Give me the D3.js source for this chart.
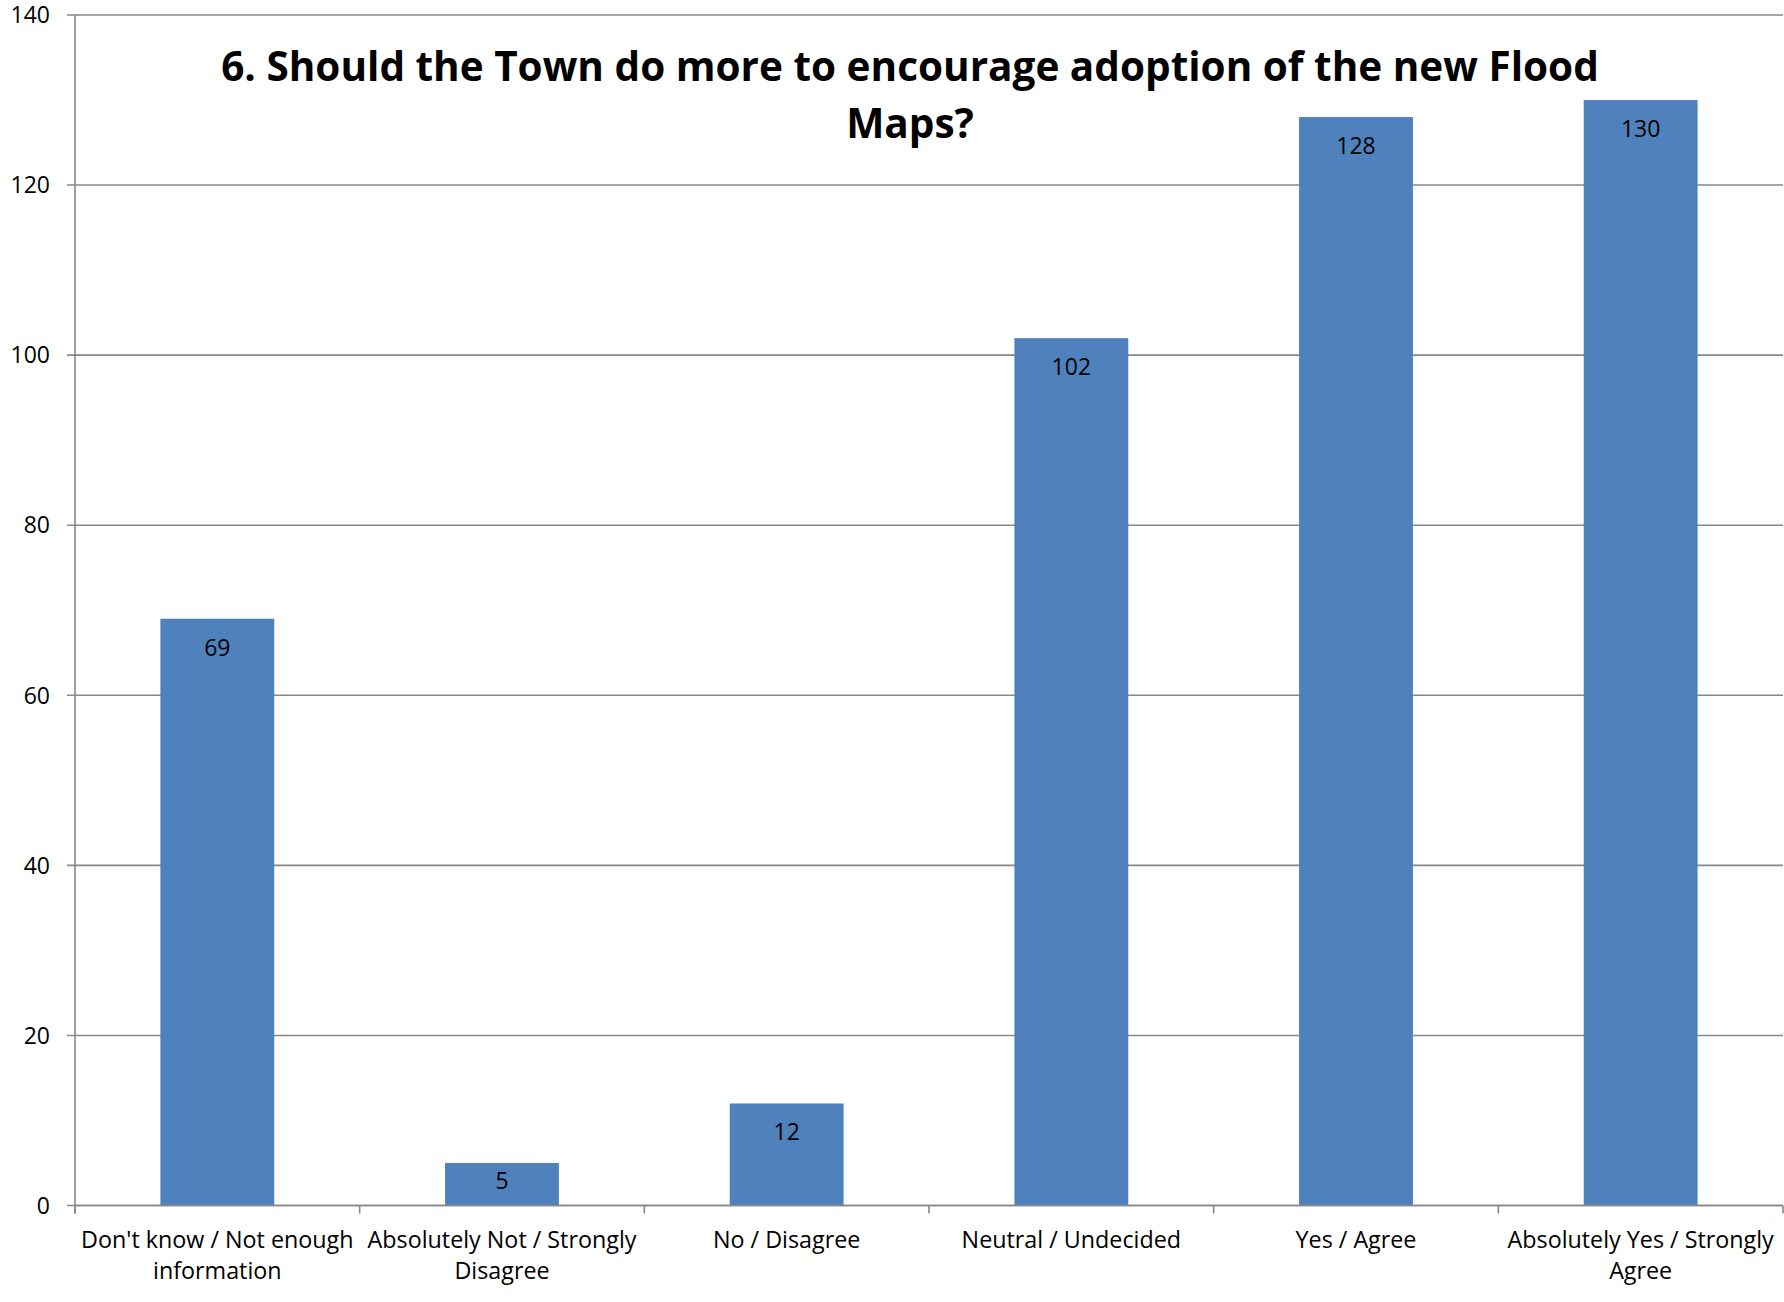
<!DOCTYPE html>
<html><head><meta charset="utf-8">
<script src="https://cdn.jsdelivr.net/npm/d3@7"></script>
<style>body{margin:0;background:#fff}svg{display:block}</style>
</head><body>
<script>
const categories = [
  ["Don't know / Not enough", "information"],
  ["Absolutely Not / Strongly", "Disagree"],
  ["No / Disagree"],
  ["Neutral / Undecided"],
  ["Yes / Agree"],
  ["Absolutely Yes / Strongly", "Agree"]
];
const values = [69, 5, 12, 102, 128, 130];
const yTicks = [0, 20, 40, 60, 80, 100, 120, 140];
const titleLines = ["6. Should the Town do more to encourage adoption of the new Flood", "Maps?"];

const W = 1784, H = 1302;
const mLeft = 75, mRight = 1783, mTop = 15, mBottom = 1205.5;
const font = "'Open Sans', sans-serif";
const grid = "#878787";

const svg = d3.select("body").append("svg").attr("width", W).attr("height", H);

const x = d3.scaleBand().domain(d3.range(categories.length)).range([mLeft, mRight]).padding(0);
const y = d3.scaleLinear().domain([0, 140]).range([mBottom, mTop]);

// gridlines
svg.append("g").selectAll("line").data(yTicks).join("line")
  .attr("x1", mLeft - 8).attr("x2", mRight).attr("y1", d => y(d)).attr("y2", d => y(d))
  .attr("stroke", grid).attr("stroke-width", 1.6);

// y tick labels
svg.append("g").selectAll("text").data(yTicks).join("text")
  .attr("x", 50).attr("y", d => y(d)).attr("dy", "0.36em")
  .attr("text-anchor", "end").attr("font-family", font).attr("font-size", 23)
  .attr("fill", "#000").text(d => d);

// bars
const bw = x.bandwidth() * 0.4;
svg.append("g").selectAll("rect").data(values).join("rect")
  .attr("x", (d, i) => x(i) + x.bandwidth() / 2 - bw / 2)
  .attr("width", bw)
  .attr("y", d => y(d)).attr("height", d => y(0) - y(d))
  .attr("fill", "#4F81BD");

// value labels
svg.append("g").selectAll("text").data(values).join("text")
  .attr("x", (d, i) => x(i) + x.bandwidth() / 2)
  .attr("y", d => Math.min(y(d) + 37, y(0) - 17))
  .attr("text-anchor", "middle").attr("font-family", font).attr("font-size", 23)
  .attr("fill", "#000").text(d => d);

// y axis line
svg.append("line").attr("x1", mLeft).attr("x2", mLeft).attr("y1", mTop).attr("y2", mBottom + 8)
  .attr("stroke", grid).attr("stroke-width", 1.6);
// x axis line
svg.append("line").attr("x1", mLeft).attr("x2", mRight).attr("y1", mBottom).attr("y2", mBottom)
  .attr("stroke", grid).attr("stroke-width", 1.6);
// x ticks at band boundaries
const bounds = d3.range(categories.length + 1).map(i => i < categories.length ? x(i) : mRight);
svg.append("g").selectAll("line").data(bounds).join("line")
  .attr("x1", d => d).attr("x2", d => d).attr("y1", mBottom).attr("y2", mBottom + 8)
  .attr("stroke", grid).attr("stroke-width", 1.6);

// category labels
const cl = svg.append("g").selectAll("text").data(categories).join("text")
  .attr("x", (d, i) => x(i) + x.bandwidth() / 2)
  .attr("y", 1248)
  .attr("text-anchor", "middle").attr("font-family", font).attr("font-size", 23.3)
  .attr("fill", "#000");
cl.selectAll("tspan").data(d => d).join("tspan")
  .attr("x", function() { return d3.select(this.parentNode).attr("x"); })
  .attr("dy", (d, j) => j === 0 ? 0 : 31)
  .text(d => d);

// title
svg.append("g").selectAll("text").data(titleLines).join("text")
  .attr("x", 910).attr("y", (d, i) => 81 + i * 57)
  .attr("text-anchor", "middle").attr("font-family", font).attr("font-weight", "bold")
  .attr("font-size", 40.5).attr("fill", "#000").text(d => d);
</script>
</body></html>
